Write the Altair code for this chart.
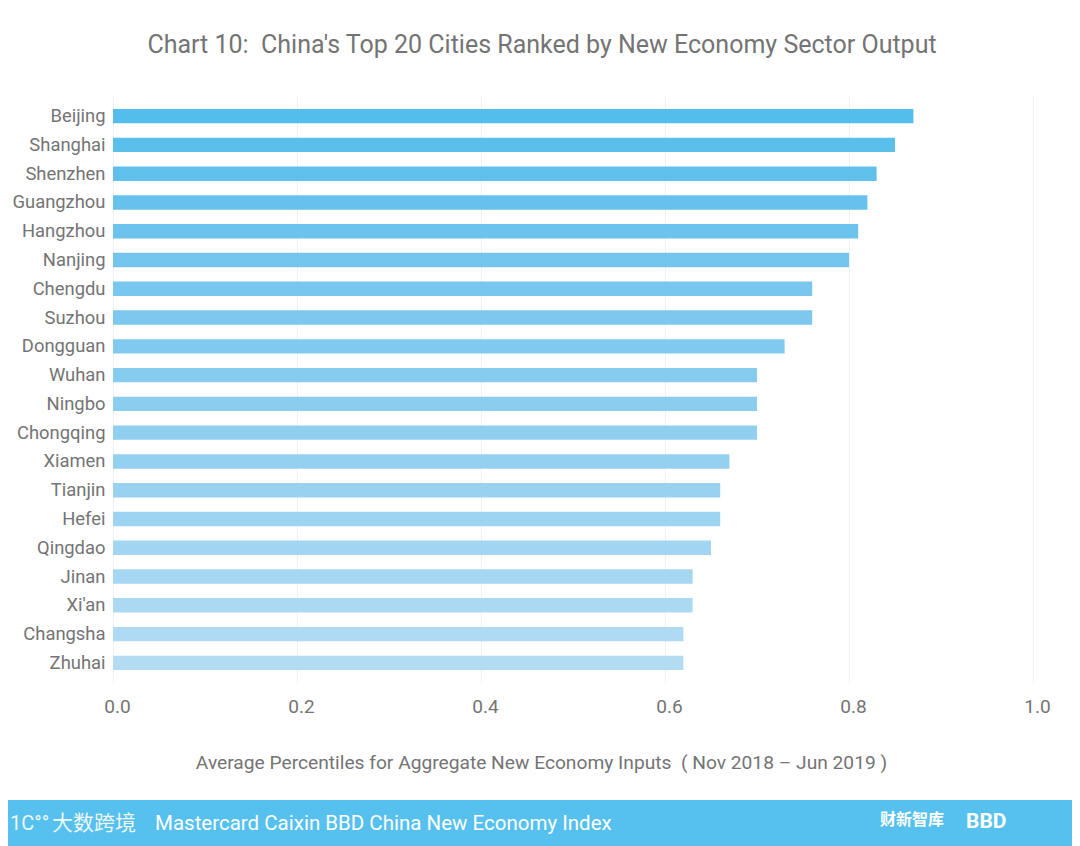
import altair as alt
import pandas as pd

cities = ["Beijing", "Shanghai", "Shenzhen", "Guangzhou", "Hangzhou", "Nanjing",
          "Chengdu", "Suzhou", "Dongguan", "Wuhan", "Ningbo", "Chongqing",
          "Xiamen", "Tianjin", "Hefei", "Qingdao", "Jinan", "Xi'an",
          "Changsha", "Zhuhai"]
values = [0.87, 0.85, 0.83, 0.82, 0.81, 0.80, 0.76, 0.76, 0.73, 0.70,
          0.70, 0.70, 0.67, 0.66, 0.66, 0.65, 0.63, 0.63, 0.62, 0.62]
x_ticks = [0.0, 0.2, 0.4, 0.6, 0.8, 1.0]

title_text = "Chart 10:\u00a0 China's Top 20 Cities Ranked by New Economy Sector Output"
x_title = "Average Percentiles for Aggregate New Economy Inputs\u00a0 ( Nov 2018 \u2013 Jun 2019 )"
banner_text = "Mastercard Caixin BBD China New Economy Index"
logo_left = "大数跨境"
logo_right_cn = "财新智库"
logo_right_en = "BBD"

df = pd.DataFrame({"city": cities, "value": values, "rank": list(range(len(cities)))})

FONT = "Roboto"
GRAY = "#747474"
W, H = 920, 587

bars = alt.Chart(df).mark_bar().encode(
    x=alt.X("value:Q",
            scale=alt.Scale(domain=[0, 1], nice=False),
            axis=alt.Axis(values=x_ticks, format=".1f", title=x_title,
                          grid=True, gridColor="#f1f1f1", domain=False, ticks=False,
                          labelFont=FONT, labelFontSize=19, labelColor=GRAY,
                          labelFlush=False, labelOffset=4, labelPadding=14,
                          titleFont=FONT, titleFontSize=19.2, titleColor=GRAY,
                          titleFontWeight="normal", titleX=428, titleY=79,
                          titleBaseline="middle", titleAnchor="middle")),
    y=alt.Y("city:N", sort=cities,
            scale=alt.Scale(paddingInner=0.5, paddingOuter=0.45),
            axis=alt.Axis(title=None, domain=False, ticks=False,
                          labelFont=FONT, labelFontSize=18.4, labelColor=GRAY,
                          labelPadding=8)),
    color=alt.Color("rank:Q", legend=None,
                    scale=alt.Scale(domain=[0, len(cities) - 1],
                                    range=["#53bdeb", "#b3dcf3"])),
)

title_df = pd.DataFrame({"t": [title_text]})
title = alt.Chart(title_df).mark_text(
    font=FONT, fontSize=25, color=GRAY, align="center", baseline="middle"
).encode(text="t:N", x=alt.value(429), y=alt.value(-51))

banner = alt.Chart(title_df).mark_rect(color="#56c1ee", clip=False).encode(
    x=alt.value(-105), x2=alt.value(959), y=alt.value(704), y2=alt.value(750)
)

banner_df = pd.DataFrame({"t": [banner_text]})
banner_txt = alt.Chart(banner_df).mark_text(
    font=FONT, fontSize=20.5, color="white", align="left", baseline="middle"
).encode(text="t:N", x=alt.value(42), y=alt.value(728))

logo_l = alt.Chart(pd.DataFrame({"t": [logo_left]})).mark_text(
    font="Noto Sans CJK SC", fontSize=21, color="white", opacity=0.9,
    align="left", baseline="middle"
).encode(text="t:N", x=alt.value(-61), y=alt.value(728))

logo_l2 = alt.Chart(pd.DataFrame({"t": ["1C\u00b0\u00b0"]})).mark_text(
    font=FONT, fontSize=20, color="white", opacity=0.9,
    align="left", baseline="middle"
).encode(text="t:N", x=alt.value(-103), y=alt.value(728))

logo_r = alt.Chart(pd.DataFrame({"t": [logo_right_cn]})).mark_text(
    font="Noto Sans CJK SC", fontSize=16, fontWeight="bold", color="white",
    align="left", baseline="middle"
).encode(text="t:N", x=alt.value(767), y=alt.value(724))

logo_r2 = alt.Chart(pd.DataFrame({"t": [logo_right_en]})).mark_text(
    font=FONT, fontSize=21, fontWeight="bold", color="white",
    align="left", baseline="middle"
).encode(text="t:N", x=alt.value(853), y=alt.value(726))

chart = alt.layer(bars, title, banner, banner_txt, logo_l2, logo_l, logo_r, logo_r2).properties(
    width=W, height=H,
    autosize=alt.AutoSizeParams(type="none"),
    padding={"left": 105, "top": 88, "right": 39, "bottom": 163},
    background="white",
).configure_view(stroke=None)

chart.save("out.html", embed_options={"renderer": "svg", "actions": False})
